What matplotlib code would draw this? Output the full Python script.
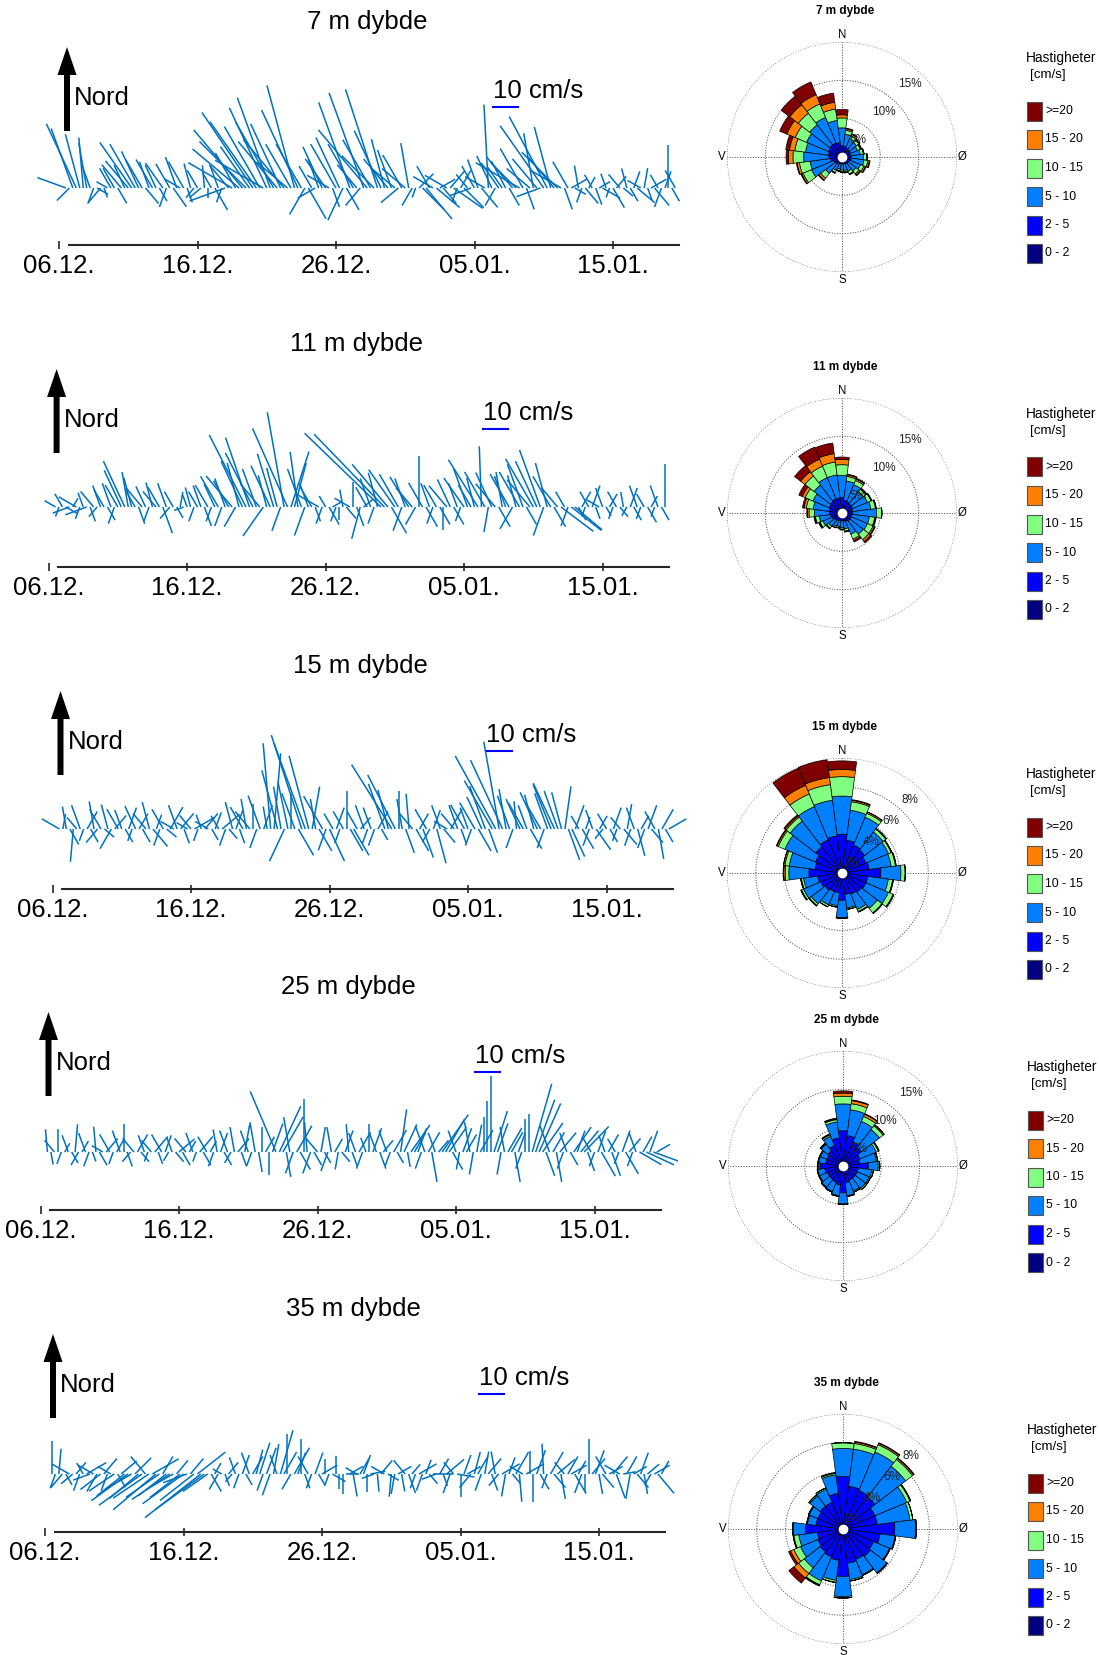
import numpy as np
import matplotlib
matplotlib.use("Agg")
import matplotlib.pyplot as plt
from matplotlib.collections import LineCollection
from matplotlib.patches import FancyArrow, Rectangle

plt.rcParams['font.family'] = ['Liberation Sans', 'DejaVu Sans']

W, H = 1099, 1655
PXD = 13.85              # pixels per day on the time axes
K = 25.3 / PXD / 10      # stick length in days per cm/s (10 cm/s bar = 25.3 px)

depth_titles = ['7 m dybde', '11 m dybde', '15 m dybde', '25 m dybde', '35 m dybde']
date_ticks = [0, 10, 20, 30, 40]      # days after 06.12.
date_labels = ['06.12.', '16.12.', '26.12.', '05.01.', '15.01.']
speed_bins = ['0 - 2', '2 - 5', '5 - 10', '10 - 15', '15 - 20', '>=20']
bin_colors = ['#000080', '#0000FF', '#0080FF', '#80FF80', '#FF8000', '#800000']
sector_deg = list(range(0, 360, 15))
t_start, t_step = 0.5, 0.25           # 6-hourly sticks from 06.12. 12:00

# sticks: (speed cm/s, direction towards, deg from north), one row per day
stick_7m = [
    (12, 290), (7, 225),
    (25, 340), (28, 335), (22, 345), (20, 355),
    (18, 350), (10, 340), (6, 200), (5, 120),
    (8, 220), (4, 160), (5, 300), (9, 330),
    (9, 330), (7, 150), (12, 320), (10, 335),
    (14, 320), (22, 325), (20, 330), (16, 335),
    (13, 330), (8, 140), (11, 340), (13, 330),
    (10, 335), (6, 150), (12, 325), (8, 200),
    (11, 330), (9, 145), (13, 340), (7, 300),
    (12, 330), (6, 160), (10, 345), (5, 220),
    (8, 330), (6, 230), (9, 355), (4, 180),
    (7, 330), (10, 150), (9, 340), (6, 200),
    (15, 250), (12, 320), (20, 300), (16, 330),
    (24, 310), (30, 320), (26, 315), (20, 325),
    (36, 326), (32, 325), (28, 330), (22, 300),
    (35, 335), (38, 340), (30, 330), (24, 320),
    (28, 335), (25, 320), (16, 310), (20, 330),
    (42, 345), (34, 335), (20, 330), (12, 210),
    (14, 150), (10, 330), (8, 240), (12, 340),
    (18, 335), (14, 325), (10, 300), (8, 160),
    (20, 330), (22, 335), (14, 205), (10, 150),
    (36, 340), (20, 330), (12, 320), (9, 220),
    (40, 340), (30, 320), (22, 330), (18, 315),
    (41, 342), (25, 335), (20, 345), (15, 320),
    (16, 340), (12, 310), (9, 230), (15, 330),
    (12, 310), (18, 350), (8, 210), (4, 200),
    (8, 45), (12, 135), (16, 140), (10, 330),
    (9, 300), (12, 130), (7, 60), (8, 140),
    (10, 300), (9, 40), (14, 125), (6, 200),
    (8, 30), (11, 135), (7, 320), (9, 250),
    (10, 330), (12, 340), (10, 140), (9, 300),
    (33, 357), (14, 335), (8, 210), (12, 325),
    (10, 325), (12, 332), (8, 150), (16, 320),
    (14, 315), (20, 300), (18, 330), (9, 160),
    (12, 310), (22, 350), (15, 320), (10, 250),
    (30, 325), (32, 332), (25, 345), (16, 320),
    (20, 315), (14, 300), (9, 160), (12, 330),
    (7, 60), (5, 120), (9, 350), (6, 200),
    (8, 140), (5, 30), (6, 330), (7, 160),
    (5, 60), (8, 120), (6, 340), (4, 200),
    (9, 150), (6, 40), (7, 320), (5, 130),
    (8, 345), (6, 150), (7, 20), (9, 130),
    (6, 300), (8, 10), (5, 160), (7, 60),
    (9, 140), (6, 330), (8, 200), (7, 20),
    (17, 0), (6, 150), (8, 330),
]

stick_11m = [
    (5, 300), (4, 200),
    (6, 330), (5, 120), (7, 250), (4, 30),
    (8, 300), (5, 200), (6, 340), (9, 250),
    (6, 160), (8, 320), (5, 220), (9, 340),
    (8, 330), (6, 150), (10, 340), (7, 200),
    (10, 330), (16, 335), (20, 335), (14, 350),
    (12, 345), (8, 330), (7, 160), (10, 320),
    (9, 335), (6, 200), (10, 345), (8, 320),
    (9, 330), (11, 160), (10, 340), (6, 220),
    (7, 330), (5, 150), (6, 10), (4, 250),
    (5, 340), (8, 345), (6, 200), (7, 330),
    (9, 340), (8, 160), (10, 330), (6, 200),
    (10, 335), (14, 330), (8, 200), (12, 340),
    (12, 330), (16, 320), (9, 210), (18, 345),
    (20, 335), (32, 333), (29, 341), (24, 333),
    (16, 340), (12, 320), (14, 215), (13, 345),
    (18, 335), (22, 343), (16, 345), (10, 200),
    (38, 350), (34, 336), (23, 18), (18, 15),
    (22, 352), (16, 340), (12, 200), (10, 340),
    (9, 330), (6, 160), (10, 300), (7, 200),
    (5, 330), (8, 150), (4, 60), (6, 200),
    (5, 180), (7, 350), (6, 140), (7, 300),
    (10, 0), (8, 160), (13, 195), (5, 50),
    (9, 330), (12, 340), (7, 200), (14, 345),
    (42, 314), (40, 316), (22, 320), (12, 150),
    (18, 325), (15, 330), (10, 200), (12, 340),
    (14, 328), (10, 320), (8, 210), (20, 0),
    (11, 330), (9, 150), (10, 340), (7, 200),
    (10, 330), (8, 150), (9, 180), (11, 320),
    (12, 335), (8, 150), (10, 340), (6, 200),
    (14, 325), (16, 340), (10, 330), (12, 345),
    (22, 328), (24, 358), (16, 330), (10, 190),
    (15, 335), (12, 320), (9, 150), (14, 350),
    (13, 340), (15, 330), (10, 210), (13, 345),
    (16, 330), (18, 340), (8, 150), (14, 320),
    (22, 330), (20, 335), (24, 340), (12, 200),
    (18, 345), (14, 330), (9, 150), (10, 320),
    (16, 127), (7, 330), (8, 200), (15, 128),
    (14, 130), (6, 150), (7, 30), (4, 200),
    (7, 330), (9, 20), (5, 160), (6, 300),
    (8, 340), (4, 150), (6, 30), (5, 200),
    (7, 330), (5, 140), (6, 350), (4, 210),
    (8, 20), (6, 150), (9, 340), (5, 200),
    (6, 330), (7, 150), (5, 30), (4, 200),
    (9, 340), (6, 150), (17, 0),
]

stick_15m = [
    (8, 300), (6, 10),
    (9, 350), (7, 150), (13, 185), (6, 320),
    (10, 340), (5, 200), (8, 30), (6, 150),
    (11, 350), (7, 220), (9, 330), (5, 130),
    (10, 345), (9, 210), (7, 40), (9, 330),
    (8, 340), (6, 150), (9, 20), (5, 200),
    (10, 335), (7, 30), (6, 150), (8, 320),
    (11, 345), (9, 140), (6, 20), (7, 200),
    (9, 330), (5, 130), (10, 30), (6, 300),
    (10, 340), (8, 40), (6, 160), (5, 300),
    (7, 320), (9, 60), (5, 200), (6, 340),
    (8, 40), (6, 300), (5, 150), (7, 20),
    (6, 330), (9, 50), (7, 200), (5, 140),
    (11, 345), (8, 20), (6, 160), (10, 330),
    (12, 350), (9, 320), (10, 0), (8, 200),
    (14, 340), (10, 20), (9, 350), (34, 355),
    (30, 5), (24, 345), (17, 350), (14, 205),
    (19, 348), (14, 0), (15, 340), (12, 150),
    (39, 342), (36, 340), (30, 345), (17, 10),
    (12, 350), (10, 150), (15, 330), (9, 200),
    (14, 155), (7, 330), (9, 20), (6, 200),
    (8, 330), (15, 0), (10, 150), (12, 150),
    (8, 330), (6, 40), (10, 340), (6, 200),
    (9, 340), (7, 200), (8, 30), (5, 150),
    (19, 340), (16, 345), (30, 328), (24, 333),
    (15, 0), (12, 350), (10, 160), (14, 355),
    (8, 320), (10, 150), (7, 30), (12, 160),
    (9, 330), (6, 210), (8, 20), (14, 165),
    (10, 340), (7, 140), (6, 300), (9, 30),
    (8, 320), (10, 340), (6, 160), (11, 330),
    (9, 340), (7, 200), (12, 330), (10, 150),
    (14, 335), (18, 340), (10, 160), (22, 330),
    (33, 331), (35, 350), (30, 335), (16, 350),
    (14, 340), (8, 200), (11, 355), (13, 335),
    (12, 330), (10, 340), (9, 150), (14, 345),
    (16, 335), (12, 330), (8, 200), (15, 340),
    (19, 338), (20, 335), (16, 340), (15, 345),
    (17, 8), (13, 160), (12, 155), (10, 20),
    (6, 330), (9, 150), (5, 20), (7, 200),
    (8, 340), (10, 145), (6, 30), (5, 220),
    (7, 330), (6, 150), (9, 20), (5, 200),
    (6, 320), (8, 140), (10, 10), (7, 200),
    (9, 340), (11, 165), (6, 30), (8, 200),
    (10, 20), (7, 140), (8, 330), (12, 170),
    (9, 30), (6, 150), (8, 60),
]

stick_25m = [
    (9, 355), (5, 170),
    (6, 320), (9, 0), (5, 200), (4, 30),
    (7, 340), (5, 150), (11, 5), (6, 210),
    (5, 30), (8, 340), (6, 200), (4, 160),
    (10, 355), (6, 150), (5, 300), (7, 40),
    (8, 330), (5, 200), (6, 30), (9, 340),
    (11, 0), (6, 160), (5, 220), (7, 320),
    (8, 30), (5, 140), (7, 340), (4, 200),
    (6, 320), (8, 40), (5, 160), (8, 330),
    (7, 20), (4, 210), (6, 340), (5, 140),
    (8, 50), (6, 150), (7, 320), (5, 30),
    (8, 340), (4, 200), (8, 40), (6, 150),
    (7, 330), (5, 30), (6, 200), (9, 350),
    (8, 20), (6, 150), (9, 340), (5, 210),
    (10, 350), (7, 40), (6, 160), (11, 10),
    (9, 340), (6, 200), (12, 350), (8, 170),
    (10, 0), (7, 30), (9, 180), (12, 20),
    (26, 337), (20, 25), (16, 30), (10, 170),
    (14, 350), (9, 200), (12, 30), (8, 150),
    (21, 0), (12, 355), (9, 200), (6, 150),
    (7, 320), (10, 10), (5, 150), (8, 200),
    (10, 350), (6, 30), (7, 190), (5, 140),
    (9, 20), (11, 355), (6, 160), (8, 340),
    (9, 30), (7, 200), (6, 340), (11, 0),
    (10, 20), (8, 340), (7, 160), (6, 40),
    (9, 340), (6, 200), (10, 30), (5, 150),
    (17, 8), (12, 25), (6, 170), (13, 35),
    (9, 30), (10, 20), (7, 200), (11, 340),
    (9, 30), (12, 170), (8, 340), (6, 40),
    (18, 35), (15, 30), (12, 35), (8, 150),
    (9, 340), (7, 190), (10, 20), (8, 30),
    (12, 350), (9, 190), (11, 10), (10, 30),
    (14, 0), (20, 0), (30, 0), (17, 18),
    (12, 20), (9, 190), (10, 350), (11, 30),
    (9, 30), (12, 170), (8, 20), (7, 200),
    (13, 0), (15, 0), (28, 16), (22, 20),
    (21, 24), (14, 35), (10, 160), (11, 340),
    (9, 30), (12, 170), (10, 40), (7, 200),
    (8, 340), (6, 150), (12, 35), (9, 20),
    (11, 40), (14, 44), (8, 160), (7, 330),
    (6, 200), (9, 20), (11, 150), (7, 340),
    (8, 30), (10, 160), (6, 330), (5, 200),
    (9, 20), (10, 150), (7, 40), (6, 200),
    (8, 340), (10, 120), (7, 30), (12, 115),
    (9, 20), (12, 110), (6, 60),
]

stick_35m = [
    (13, 0), (6, 200),
    (10, 5), (7, 220), (5, 150), (8, 300),
    (6, 230), (6, 40), (7, 200), (5, 330),
    (9, 60), (7, 250), (7, 300), (8, 210),
    (10, 232), (8, 40), (7, 200), (6, 300),
    (12, 236), (6, 150), (8, 50), (14, 232),
    (18, 234), (12, 240), (9, 45), (15, 230),
    (21, 234), (9, 320), (17, 236), (12, 60),
    (22, 230), (16, 235), (8, 30), (14, 232),
    (18, 236), (12, 240), (7, 40), (15, 232),
    (20, 234), (10, 250), (8, 40), (17, 232),
    (14, 52), (28, 232), (24, 234), (12, 235),
    (8, 150), (5, 30), (7, 210), (4, 300),
    (5, 160), (6, 40), (4, 220), (7, 340),
    (6, 200), (8, 20), (5, 150), (9, 340),
    (8, 30), (10, 15), (13, 18), (7, 200),
    (11, 20), (9, 200), (12, 10), (8, 340),
    (18, 16), (10, 30), (16, 0), (7, 210),
    (12, 30), (9, 20), (14, 0), (6, 160),
    (8, 330), (6, 200), (9, 20), (5, 150),
    (7, 60), (6, 0), (5, 200), (6, 120),
    (7, 0), (6, 180), (8, 180), (5, 90),
    (6, 60), (9, 170), (5, 300), (7, 30),
    (8, 20), (7, 180), (6, 80), (5, 250),
    (7, 175), (7, 40), (6, 300), (5, 120),
    (9, 185), (8, 190), (6, 60), (7, 170),
    (7, 320), (8, 160), (5, 40), (6, 200),
    (8, 60), (7, 200), (6, 20), (5, 140),
    (8, 90), (6, 250), (7, 30), (5, 160),
    (9, 50), (8, 200), (6, 320), (7, 100),
    (9, 180), (8, 20), (6, 60), (7, 220),
    (9, 15), (8, 30), (7, 200), (9, 10),
    (8, 40), (7, 160), (9, 350), (6, 220),
    (8, 60), (9, 190), (7, 20), (5, 140),
    (10, 30), (11, 175), (6, 300), (8, 60),
    (9, 0), (11, 180), (10, 20), (7, 150),
    (12, 357), (6, 200), (10, 30), (7, 140),
    (9, 50), (10, 170), (6, 320), (8, 30),
    (7, 60), (9, 150), (6, 30), (8, 200),
    (7, 180), (14, 0), (8, 40), (10, 20),
    (8, 170), (7, 140), (8, 330), (6, 60),
    (9, 40), (10, 160), (7, 300), (5, 80),
    (8, 30), (10, 190), (6, 60), (7, 140),
    (9, 20), (8, 170), (6, 50), (5, 210),
    (7, 60), (10, 140), (6, 30),
]

# roses: cumulative % per 15 deg sector (0, 15, ... 345) at top of each speed bin
rose_7m = [
    [0.5, 1.5, 3.8, 5.1, 5.5, 6.2], [0.5, 1.4, 3.0, 3.5, 3.7, 3.8],
    [0.5, 1.3, 2.6, 3.0, 3.2, 3.3], [0.5, 1.2, 2.4, 2.8, 2.9, 3.0],
    [0.5, 1.2, 2.2, 2.6, 2.7, 2.8], [0.5, 1.1, 2.4, 2.8, 2.9, 2.9],
    [0.5, 1.2, 2.8, 3.2, 3.3, 3.3], [0.5, 1.2, 2.9, 3.4, 3.6, 3.7],
    [0.5, 1.1, 2.6, 3.1, 3.3, 3.4], [0.5, 1.0, 2.3, 2.8, 3.0, 3.1],
    [0.5, 1.0, 2.0, 2.4, 2.5, 2.5], [0.5, 0.9, 1.8, 2.0, 2.1, 2.1],
    [0.5, 0.9, 1.7, 1.9, 2.0, 2.0], [0.5, 0.9, 1.6, 1.8, 1.9, 1.9],
    [0.5, 1.0, 1.9, 2.2, 2.3, 2.3], [0.5, 1.1, 2.7, 3.5, 3.8, 3.9],
    [0.5, 1.2, 4.3, 5.5, 5.7, 5.8], [0.5, 1.5, 4.2, 5.6, 5.9, 6.0],
    [0.5, 1.7, 5.0, 6.4, 7.0, 7.3], [0.5, 1.8, 4.8, 6.2, 6.9, 7.4],
    [0.5, 1.9, 5.0, 6.6, 7.8, 8.8], [0.5, 2.0, 5.3, 7.2, 8.6, 10.0],
    [0.5, 2.0, 5.6, 7.5, 8.8, 10.6], [0.5, 1.9, 4.8, 6.3, 7.2, 8.4],
]
rose_11m = [
    [0.5, 2.0, 4.9, 6.3, 7.0, 7.3], [0.5, 1.7, 4.2, 4.8, 5.0, 5.1],
    [0.5, 1.6, 4.0, 4.6, 4.8, 4.9], [0.5, 1.5, 3.5, 3.9, 4.0, 4.1],
    [0.5, 1.5, 3.6, 4.1, 4.2, 4.2], [0.5, 1.4, 3.8, 4.4, 4.5, 4.5],
    [0.5, 1.4, 4.5, 5.2, 5.2, 5.2], [0.5, 1.3, 3.6, 4.3, 4.4, 4.5],
    [0.5, 1.3, 3.6, 4.4, 4.6, 4.7], [0.5, 1.3, 3.5, 4.4, 4.7, 4.9],
    [0.5, 1.2, 3.0, 3.7, 3.9, 4.1], [0.5, 1.1, 2.1, 2.4, 2.5, 2.5],
    [0.5, 1.0, 1.9, 2.1, 2.2, 2.2], [0.5, 1.0, 1.8, 2.0, 2.0, 2.0],
    [0.5, 1.1, 1.9, 2.1, 2.1, 2.1], [0.5, 1.2, 2.2, 2.5, 2.6, 2.6],
    [0.5, 1.4, 2.7, 3.1, 3.2, 3.3], [0.5, 1.5, 3.0, 3.5, 3.6, 3.7],
    [0.5, 1.6, 3.6, 4.3, 4.5, 4.6], [0.5, 1.7, 3.8, 4.7, 5.0, 5.2],
    [0.5, 1.8, 4.1, 5.2, 5.6, 6.1], [0.5, 1.9, 4.6, 6.1, 6.8, 7.8],
    [0.5, 2.0, 5.0, 6.6, 7.6, 9.3], [0.5, 2.0, 5.0, 6.7, 7.8, 9.2],
]
rose_15m = [
    [0.3, 2.7, 5.35, 6.7, 7.2, 7.8], [0.3, 2.3, 4.4, 5.0, 5.1, 5.15],
    [0.3, 2.1, 4.2, 4.5, 4.6, 4.6], [0.3, 2.0, 3.6, 3.85, 3.9, 3.9],
    [0.3, 1.8, 3.5, 3.7, 3.75, 3.75], [0.3, 1.9, 3.45, 3.75, 3.8, 3.8],
    [0.3, 2.7, 4.1, 4.4, 4.4, 4.4], [0.3, 1.8, 3.25, 3.55, 3.6, 3.6],
    [0.3, 1.8, 3.5, 3.85, 3.9, 3.9], [0.3, 1.7, 3.1, 3.5, 3.55, 3.55],
    [0.3, 1.6, 2.75, 2.9, 2.95, 2.95], [0.3, 1.5, 2.45, 2.55, 2.55, 2.55],
    [0.3, 1.9, 3.1, 3.1, 3.15, 3.15], [0.3, 1.4, 2.3, 2.4, 2.4, 2.4],
    [0.3, 1.4, 2.4, 2.55, 2.55, 2.55], [0.3, 1.5, 2.7, 2.85, 2.9, 2.9],
    [0.3, 1.6, 2.9, 3.05, 3.1, 3.1], [0.3, 1.7, 2.7, 2.85, 2.9, 2.9],
    [0.3, 2.3, 3.7, 3.95, 4.05, 4.1], [0.3, 1.9, 3.7, 4.0, 4.1, 4.1],
    [0.3, 2.0, 4.3, 4.8, 4.9, 4.95], [0.3, 2.3, 4.55, 4.9, 5.0, 5.1],
    [0.3, 2.5, 5.0, 5.95, 6.6, 7.9], [0.3, 2.6, 5.1, 6.2, 6.7, 7.95],
]
rose_25m = [
    [0.4, 4.6, 8.1, 9.1, 9.5, 9.8], [0.4, 4.0, 7.4, 8.2, 8.6, 8.7],
    [0.4, 3.4, 6.3, 7.0, 7.3, 7.4], [0.4, 3.0, 6.0, 6.6, 6.75, 6.8],
    [0.4, 2.4, 4.7, 5.0, 5.1, 5.1], [0.4, 2.2, 4.4, 4.55, 4.6, 4.6],
    [0.4, 3.3, 4.6, 4.8, 4.8, 4.8], [0.4, 2.0, 3.8, 4.0, 4.0, 4.0],
    [0.4, 2.0, 3.7, 3.85, 3.9, 3.9], [0.4, 2.0, 3.7, 3.9, 3.9, 3.9],
    [0.4, 2.0, 3.5, 3.65, 3.7, 3.7], [0.4, 2.2, 3.9, 4.0, 4.0, 4.0],
    [0.4, 3.5, 4.95, 5.0, 5.0, 5.0], [0.4, 2.5, 3.9, 4.0, 4.0, 4.0],
    [0.4, 2.3, 3.6, 3.7, 3.7, 3.7], [0.4, 2.2, 3.5, 3.6, 3.6, 3.6],
    [0.4, 2.2, 3.3, 3.4, 3.4, 3.4], [0.4, 2.4, 3.3, 3.4, 3.4, 3.4],
    [0.4, 3.0, 3.25, 3.3, 3.3, 3.3], [0.4, 2.3, 3.2, 3.3, 3.3, 3.3],
    [0.4, 2.3, 3.2, 3.3, 3.3, 3.3], [0.4, 2.5, 3.6, 3.7, 3.75, 3.8],
    [0.4, 2.9, 4.2, 4.4, 4.45, 4.55], [0.4, 3.7, 5.8, 6.1, 6.2, 6.3],
]
rose_35m = [
    [0.3, 3.65, 5.6, 6.0, 6.0, 6.0], [0.3, 3.0, 5.6, 6.0, 6.1, 6.15],
    [0.3, 2.9, 5.8, 6.35, 6.45, 6.5], [0.3, 2.8, 5.5, 6.1, 6.2, 6.25],
    [0.3, 2.4, 4.8, 5.05, 5.1, 5.1], [0.3, 2.4, 4.7, 4.9, 4.9, 4.9],
    [0.3, 3.6, 5.05, 5.1, 5.1, 5.1], [0.3, 2.6, 3.65, 3.7, 3.7, 3.7],
    [0.3, 2.3, 3.5, 3.55, 3.55, 3.55], [0.3, 2.4, 3.85, 3.9, 3.9, 3.9],
    [0.3, 2.3, 3.45, 3.5, 3.5, 3.5], [0.3, 2.4, 3.55, 3.65, 3.65, 3.65],
    [0.3, 3.3, 4.7, 4.8, 4.8, 4.8], [0.3, 2.2, 3.6, 3.75, 3.75, 3.75],
    [0.3, 2.1, 3.9, 4.2, 4.25, 4.3], [0.3, 2.0, 3.4, 3.9, 4.3, 4.75],
    [0.3, 1.9, 3.2, 3.7, 3.95, 4.1], [0.3, 1.8, 3.1, 3.45, 3.5, 3.5],
    [0.3, 2.6, 3.45, 3.5, 3.5, 3.5], [0.3, 1.9, 2.5, 2.55, 2.55, 2.55],
    [0.3, 1.9, 2.55, 2.6, 2.6, 2.6], [0.3, 2.0, 2.9, 3.0, 3.0, 3.0],
    [0.3, 2.0, 3.0, 3.1, 3.1, 3.1], [0.3, 2.5, 3.8, 3.9, 3.95, 3.95],
]

rose_rings = [[5, 10, 15], [5, 10, 15], [2, 4, 6, 8], [5, 10, 15], [2, 4, 6, 8]]

sticks = [stick_7m, stick_11m, stick_15m, stick_25m, stick_35m]
roses = [rose_7m, rose_11m, rose_15m, rose_25m, rose_35m]

# layout, in pixels of the 1099x1655 picture
x06 = [59, 48.6, 52.5, 40.5, 45]            # x of the 06.12. tick
axis_y = [245, 567, 889, 1210, 1532]        # time axis line
base_y = [188, 507, 829, 1152, 1474]        # stick origin line
rose_c = [(842, 157), (842, 513), (842, 873), (843, 1166), (843, 1529)]

fig = plt.figure(figsize=(W / 100, H / 100), dpi=100)


def stick_panel(x0, ay, by, title, data):
    xl = (-2.5, 46.0)
    hpx = 232
    ax = fig.add_axes([(x0 + xl[0] * PXD) / W, 1 - ay / H,
                       (xl[1] - xl[0]) * PXD / W, hpx / H])
    ax.set_xlim(*xl)
    ax.set_ylim(0, hpx / PXD)
    ax.patch.set_visible(False)

    b = (ay - by) / PXD
    sp = np.array([d[0] for d in data], dtype=float)
    dr = np.deg2rad([d[1] for d in data])
    t = t_start + t_step * np.arange(len(data))
    u = sp * np.sin(dr)
    v = sp * np.cos(dr)
    segs = [[(ti, b), (ti + ui * K, b + vi * K)] for ti, ui, vi in zip(t, u, v)]
    ax.add_collection(LineCollection(segs, colors='#0072BD', linewidths=1.1))

    for s in ['top', 'left', 'right']:
        ax.spines[s].set_visible(False)
    ax.spines['bottom'].set_bounds(0.7, 44.8)
    ax.spines['bottom'].set_color('#262626')
    ax.spines['bottom'].set_linewidth(1.5)
    ax.set_yticks([])
    ax.set_xticks(date_ticks, date_labels)
    ax.tick_params(axis='x', direction='inout', length=6, width=1.2,
                   color='#262626', labelsize=18.5, pad=3.6)

    ax.text(308 / PXD, 223 / PXD, title, ha='center', va='center', fontsize=18.5)

    # north arrow
    ax.add_patch(FancyArrow(8 / PXD, 114 / PXD, 0, 84 / PXD, width=6 / PXD,
                            head_width=19 / PXD, head_length=28 / PXD,
                            length_includes_head=True, color='black', lw=0))
    ax.text(15 / PXD, 147 / PXD, 'Nord', ha='left', va='center', fontsize=18.5)

    # scale bar
    ax.plot([434 / PXD, 434 / PXD + 10 * K], [138 / PXD] * 2, color='#0000FF', lw=1.5)
    ax.text(434 / PXD, 154 / PXD, '10 cm/s', ha='left', va='center', fontsize=18.5)


def rose_panel(cx, cy, title, cum, rings):
    R = 115
    rmax = rings[-1]
    ax = fig.add_axes([(cx - R) / W, 1 - (cy + R) / H, 2 * R / W, 2 * R / H],
                      projection='polar')
    ax.set_theta_zero_location('N')
    ax.set_theta_direction(-1)
    ax.set_ylim(0, rmax)
    ax.grid(False)
    ax.set_xticks([])
    ax.set_yticks([])
    ax.spines['polar'].set_visible(False)
    ax.patch.set_visible(False)

    full = np.linspace(0, 2 * np.pi, 400)
    for r in rings:
        ax.plot(full, np.full_like(full, r), ls=(0, (1, 1.5)), color='#555555',
                lw=0.75, zorder=1)
    for a in [0, 90, 180, 270]:
        ax.plot([np.deg2rad(a)] * 2, [0, rmax], ls=(0, (1, 1.5)), color='#555555',
                lw=0.75, zorder=1)

    cum = np.array(cum)
    th = np.deg2rad(sector_deg)
    bottom = np.zeros(len(th))
    for j in range(6):
        ax.bar(th, cum[:, j] - bottom, width=np.deg2rad(15), bottom=bottom,
               color=bin_colors[j], edgecolor='black', linewidth=0.5, zorder=3)
        bottom = cum[:, j]
    ax.plot([0], [0], 'o', ms=6, color='white', zorder=5)

    for r in rings:
        ax.text(np.deg2rad(43), r - 15 / R * rmax, f'{r}%', ha='center',
                va='center', fontsize=8.5, color='#222222', zorder=6)

    for lab, a, f in [('N', 0, 1.06), ('Ø', 90, 1.045), ('S', 180, 1.07), ('V', 270, 1.045)]:
        ax.text(np.deg2rad(a), rmax * f, lab, ha='center', va='center', fontsize=8.3)

    fig.text((cx + 3) / W, 1 - (cy - 146) / H, title, ha='center', va='center',
             fontsize=8.5, fontweight='bold')

    # legend
    leg_dy = [-46, -17.5, 11, 39.5, 68, 96.5]
    for k, j in enumerate(reversed(range(6))):
        y = cy + leg_dy[k]
        fig.add_artist(Rectangle(((cx + 185) / W, 1 - (y + 9.5) / H), 15 / W, 19 / H,
                                 transform=fig.transFigure, facecolor=bin_colors[j],
                                 edgecolor='#555555', lw=0.8))
        fig.text((cx + 203) / W, 1 - y / H, speed_bins[j], va='center', fontsize=8.7)
    fig.text((cx + 184) / W, 1 - (cy - 99) / H, 'Hastigheter', va='center', fontsize=9.9)
    fig.text((cx + 188) / W, 1 - (cy - 82) / H, '[cm/s]', va='center', fontsize=9.6)


for i in range(5):
    stick_panel(x06[i], axis_y[i], base_y[i], depth_titles[i], sticks[i])
    rose_panel(rose_c[i][0], rose_c[i][1], depth_titles[i], roses[i], rose_rings[i])

fig.savefig('out.png', dpi=100, facecolor='white')
